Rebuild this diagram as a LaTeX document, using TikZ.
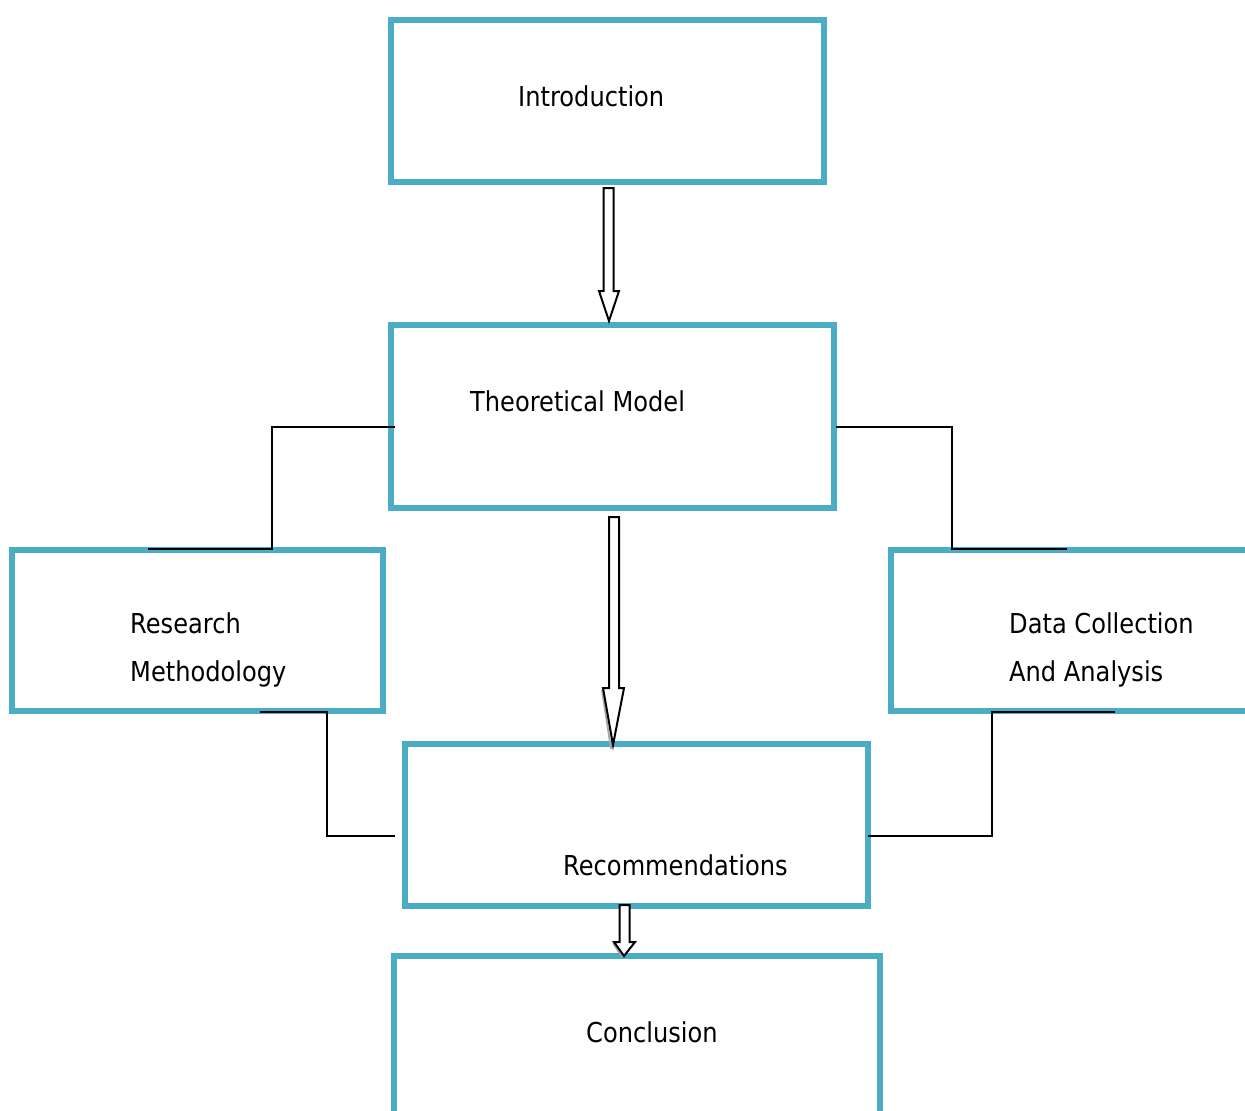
\documentclass[tikz,border=0pt]{standalone}
\usepackage{fontspec}
\setmainfont{DejaVu Sans}[FakeStretch=0.88]
\definecolor{boxblue}{RGB}{75,172,198}
\tikzset{
  box/.style={draw=boxblue, line width=6pt, fill=none, rectangle, inner sep=0pt},
  lbl/.style={font=\fontsize{27.4}{32}\selectfont, inner sep=0pt, text=black},
  conn/.style={draw=black, line width=2pt},
  hollow/.style={draw=black, line width=2pt, fill=white, line join=miter},
  shade/.style={draw=gray!70, line width=1.8pt}
}
\begin{document}
\begin{tikzpicture}[x=1pt, y=-1pt]
\useasboundingbox (0,0) rectangle (1245,1111);
% boxes
\node[box, minimum width=433.5pt, minimum height=162pt] (intro) at (607.25,100.5) {};
\node[box, minimum width=442.5pt, minimum height=183pt] (theo) at (612.25,416.5) {};
\node[box, minimum width=370.5pt, minimum height=161.5pt] (res) at (197.25,630.25) {};
\node[box, minimum width=400pt, minimum height=161.5pt] (data) at (1091,630.25) {};
\node[box, minimum width=463pt, minimum height=162pt] (rec) at (636.5,825) {};
\node[box, minimum width=486pt, minimum height=200pt] (conc) at (637,1056) {};
% texts
\node[lbl, anchor=base west] (tintro) at (518,106) {Introduction};
\node[lbl, anchor=base west] (ttheo) at (470,411) {Theoretical Model};
\node[lbl, anchor=base west] (tres1) at (130,633) {Research};
\node[lbl, anchor=base west] (tres2) at (130,681) {Methodology};
\node[lbl, anchor=base west] (tdata1) at (1009,633) {Data Collection};
\node[lbl, anchor=base west] (tdata2) at (1009,681) {And Analysis};
\node[lbl, anchor=base west] (trec) at (563,875) {Recommendations};
\node[lbl, anchor=base west] (tconc) at (586,1042) {Conclusion};
% elbow connectors
\coordinate (a1) at (395,427);
\coordinate (a2) at (148,549);
\draw[conn] (a1) -| (272,549) -- (a2);
\coordinate (b1) at (836,427);
\coordinate (b2) at (1067,549);
\draw[conn] (b1) -| (952,549) -- (b2);
\coordinate (c1) at (260,712);
\coordinate (c2) at (395,836);
\draw[conn] (c1) -- (327,712) |- (c2);
\coordinate (d1) at (1115,712);
\coordinate (d2) at (868,836);
\draw[conn] (d1) -- (992,712) |- (d2);
% hollow arrows
\draw[hollow] (603.5,188) -- (613.5,188) -- (613.5,291) -- (619,291) -- (609,321) -- (599,291) -- (603.5,291) -- cycle;
\draw[shade] (602,690) -- (611,749);
\draw[hollow] (609,517) -- (619,517) -- (619,688) -- (624,688) -- (613,745) -- (603,688) -- (609,688) -- cycle;
\draw[shade] (613,943) -- (622,957);
\draw[hollow] (619.5,905) -- (629.5,905) -- (629.5,942) -- (635,942) -- (624,956) -- (614,942) -- (619.5,942) -- cycle;
\end{tikzpicture}
\end{document}
